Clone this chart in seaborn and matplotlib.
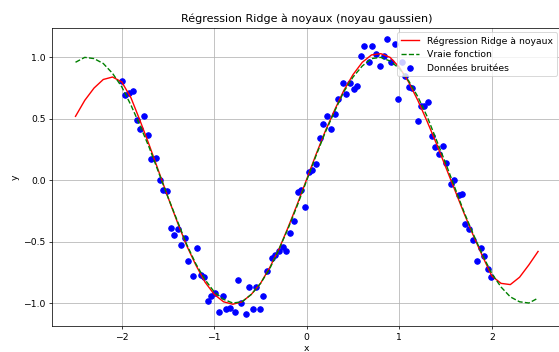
import numpy as np
import pandas as pd
import matplotlib
matplotlib.use("Agg")
import matplotlib.pyplot as plt
import seaborn as sns

x_data = [-2.00, -1.96, -1.92, -1.88, -1.84, -1.80, -1.76, -1.72, -1.68, -1.63,
          -1.59, -1.55, -1.51, -1.47, -1.44, -1.39, -1.36, -1.32, -1.28, -1.23,
          -1.19, -1.14, -1.11, -1.07, -1.04, -0.99, -0.95, -0.91, -0.87, -0.83,
          -0.78, -0.74, -0.71, -0.66, -0.63, -0.58, -0.55, -0.51, -0.47, -0.43,
          -0.38, -0.34, -0.30, -0.26, -0.23, -0.18, -0.14, -0.10, -0.06, -0.02,
          0.02, 0.06, 0.10, 0.14, 0.18, 0.22, 0.26, 0.30, 0.34, 0.39,
          0.42, 0.47, 0.51, 0.54, 0.59, 0.62, 0.67, 0.70, 0.75, 0.79,
          0.83, 0.87, 0.91, 0.95, 0.99, 1.03, 1.06, 1.10, 1.14, 1.20,
          1.23, 1.27, 1.31, 1.35, 1.39, 1.43, 1.47, 1.51, 1.56, 1.59,
          1.64, 1.68, 1.71, 1.75, 1.80, 1.84, 1.88, 1.92, 1.96, 1.99]
y_data = [0.81, 0.69, 0.71, 0.73, 0.49, 0.42, 0.52, 0.37, 0.17, 0.18,
          0.00, -0.08, -0.09, -0.39, -0.45, -0.40, -0.53, -0.47, -0.66, -0.78,
          -0.55, -0.77, -0.79, -0.98, -0.94, -0.92, -1.07, -0.94, -1.05, -1.04,
          -1.07, -0.81, -1.00, -1.09, -0.87, -1.05, -0.87, -1.05, -0.94, -0.74,
          -0.63, -0.61, -0.58, -0.54, -0.58, -0.43, -0.33, -0.10, -0.08, -0.22,
          0.07, 0.08, 0.13, 0.34, 0.46, 0.52, 0.42, 0.54, 0.66, 0.79,
          0.70, 0.79, 0.74, 0.77, 1.01, 1.09, 0.96, 1.09, 1.03, 0.93,
          1.01, 1.15, 0.96, 1.11, 0.66, 0.96, 0.85, 0.76, 0.75, 0.48,
          0.60, 0.60, 0.64, 0.36, 0.27, 0.21, 0.28, 0.14, -0.03, 0.00,
          -0.12, -0.11, -0.36, -0.40, -0.49, -0.66, -0.55, -0.62, -0.72, -0.79]

# Curves sampled every 0.1 on [-2.5, 2.5]
x_grid = [-2.5, -2.4, -2.3, -2.2, -2.1, -2.0, -1.9, -1.8, -1.7, -1.6,
          -1.5, -1.4, -1.3, -1.2, -1.1, -1.0, -0.9, -0.8, -0.7, -0.6,
          -0.5, -0.4, -0.3, -0.2, -0.1, 0.0, 0.1, 0.2, 0.3, 0.4,
          0.5, 0.6, 0.7, 0.8, 0.9, 1.0, 1.1, 1.2, 1.3, 1.4,
          1.5, 1.6, 1.7, 1.8, 1.9, 2.0, 2.1, 2.2, 2.3, 2.4, 2.5]
y_ridge = [0.52, 0.65, 0.75, 0.82, 0.84, 0.80, 0.67, 0.48, 0.28, 0.07,
           -0.14, -0.34, -0.53, -0.69, -0.83, -0.93, -0.99, -1.01, -0.99, -0.93,
           -0.84, -0.71, -0.56, -0.38, -0.19, 0.01, 0.21, 0.40, 0.57, 0.73,
           0.86, 0.96, 1.02, 1.03, 1.00, 0.92, 0.80, 0.65, 0.48, 0.30,
           0.11, -0.08, -0.27, -0.45, -0.62, -0.78, -0.84, -0.85, -0.79, -0.69, -0.58]
y_true = [0.96, 1.00, 0.99, 0.95, 0.87, 0.76, 0.61, 0.44, 0.26, 0.06,
          -0.14, -0.33, -0.52, -0.68, -0.81, -0.91, -0.97, -1.00, -0.99, -0.93,
          -0.84, -0.72, -0.56, -0.39, -0.20, 0.00, 0.20, 0.39, 0.56, 0.72,
          0.84, 0.93, 0.99, 1.00, 0.97, 0.91, 0.81, 0.68, 0.52, 0.33,
          0.14, -0.06, -0.26, -0.44, -0.61, -0.76, -0.87, -0.95, -0.99, -1.00, -0.96]

title = "Régression Ridge à noyaux (noyau gaussien)"
lab_ridge = "Régression Ridge à noyaux"
lab_true = "Vraie fonction"
lab_data = "Données bruitées"

DPI = 66.7
fig = plt.figure(figsize=(559.2 / DPI, 352.2 / DPI), dpi=DPI)
ax = fig.add_axes([52 / 559, 26 / 352, 509 / 559, 298.3 / 352])

sns.scatterplot(x=x_data, y=y_data, color="blue", edgecolor="blue", linewidth=1,
                s=36, label=lab_data, ax=ax, zorder=1)
sns.lineplot(x=x_grid, y=y_ridge, color="red", linewidth=1.5, label=lab_ridge,
             ax=ax, zorder=2)
sns.lineplot(x=x_grid, y=y_true, color="green", linestyle="--", linewidth=1.5,
             label=lab_true, ax=ax, zorder=2)

ax.set_xlim(-2.754, 2.75)
ax.set_ylim(-1.187, 1.243)
ax.set_xticks([-2, -1, 0, 1, 2])
ax.set_yticks([-1.0, -0.5, 0.0, 0.5, 1.0])
ax.grid(True, color="#b0b0b0", linewidth=0.8)
ax.set_axisbelow(True)
ax.set_title(title, fontsize=12)
ax.set_xlabel("x", fontsize=10, labelpad=2)
ax.set_ylabel("y", fontsize=10)

handles, labels = ax.get_legend_handles_labels()
order = [labels.index(lab_ridge), labels.index(lab_true), labels.index(lab_data)]
ax.legend([handles[i] for i in order], [labels[i] for i in order],
          loc="upper right", fontsize=10)

fig.savefig("out.png", dpi=DPI)
